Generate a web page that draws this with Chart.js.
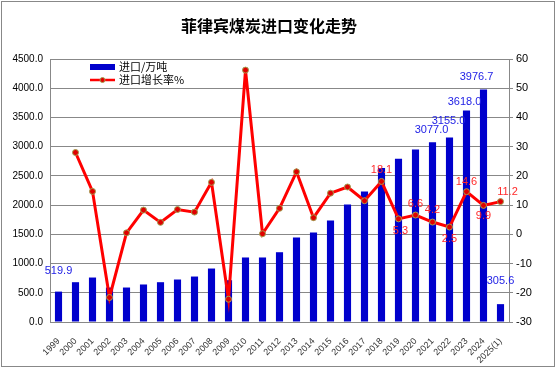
<!DOCTYPE html>
<html>
<head>
<meta charset="utf-8">
<script src="https://cdn.jsdelivr.net/npm/chart.js@4/dist/chart.umd.min.js"></script>
<style>
  html, body { margin: 0; padding: 0; background: #fff; }
  #wrap { width: 556px; height: 368px; }
</style>
</head>
<body>
<div id="wrap"><canvas id="coalChart" width="556" height="368"></canvas></div>
<script>
const years = ["1999", "2000", "2001", "2002", "2003", "2004", "2005", "2006", "2007", "2008",
  "2009", "2010", "2011", "2012", "2013", "2014", "2015", "2016", "2017", "2018",
  "2019", "2020", "2021", "2022", "2023", "2024", "2025(1)"];

// 进口量 (万吨)
const imports = [519.9, 681, 761, 590, 590, 642, 681, 727, 778, 915,
  715, 1104, 1104, 1194, 1446, 1531, 1737, 2010, 2233, 2637,
  2792, 2953, 3077.0, 3155.0, 3618.0, 3976.7, 305.6];

// 进口增长率 %
const growth = [null, 28.0, 14.7, -21.6, 0.5, 8.3, 4.1, 8.5, 7.6, 17.8,
  -22.2, 56.2, 0.2, 8.9, 21.4, 5.7, 14.1, 16.2, 11.5, 18.1,
  5.3, 6.6, 4.2, 2.5, 14.6, 9.9, 11.2];

// only some values carry a label in the original
const importLabels = ["519.9", null, null, null, null, null, null, null, null, null,
  null, null, null, null, null, null, null, null, null, null,
  null, null, "3077.0", "3155.0", "3618.0", "3976.7", "305.6"];
const growthLabels = [null, null, null, null, null, null, null, null, null, null,
  null, null, null, null, null, null, null, null, null, "18.1",
  "5.3", "6.6", "4.2", "2.5", "14.6", "9.9", "11.2"];

const leftTicks = { min: 0, max: 4500, step: 500 };
const rightTicks = { min: -30, max: 60, step: 10 };

const TITLE = "菲律宾煤炭进口变化走势";
const BAR_COLOR = "#0000cc";
const LINE_COLOR = "#ff0000";
const AXIS_COLOR = "#888888";
const FONT = "'Liberation Sans', 'Noto Sans CJK SC', sans-serif";
const CJK = "'Noto Sans CJK SC', sans-serif";

// label nudges, [dx, dy] from the mark
const barLabelOffset = { 0: [0, -21], 22: [-1, -12], 23: [-1, -17], 24: [-2, -9], 25: [-7, -13], 26: [0, -23] };
const lineLabelOffset = { 19: [0, -11], 20: [2, 12], 21: [0, -11], 22: [0, -12], 23: [0, 12], 24: [0, -10], 25: [0, 11], 26: [7, -10] };

const decorations = {
  id: "decorations",
  afterDatasetsDraw(chart) {
    const ctx = chart.ctx;
    ctx.save();
    ctx.font = "11px " + FONT;
    ctx.textAlign = "center";
    ctx.textBaseline = "middle";

    const barMeta = chart.getDatasetMeta(0);
    ctx.fillStyle = "#2222e6";
    importLabels.forEach((txt, i) => {
      if (!txt) return;
      const el = barMeta.data[i];
      const off = barLabelOffset[i] || [0, -10];
      ctx.fillText(txt, el.x + off[0], el.y + off[1]);
    });

    const lineMeta = chart.getDatasetMeta(1);
    ctx.fillStyle = "#ff2a2a";
    growthLabels.forEach((txt, i) => {
      if (!txt) return;
      const el = lineMeta.data[i];
      const off = lineLabelOffset[i] || [0, -10];
      ctx.fillText(txt, el.x + off[0], el.y + off[1]);
    });
    ctx.restore();
  },
  afterDraw(chart) {
    const ctx = chart.ctx;
    ctx.save();

    // outer frame
    ctx.strokeStyle = AXIS_COLOR;
    ctx.lineWidth = 1;
    ctx.strokeRect(1.5, 1.5, 553, 365);

    // title
    ctx.fillStyle = "#000";
    ctx.font = "bold 16px " + CJK;
    ctx.textAlign = "center";
    ctx.textBaseline = "middle";
    ctx.fillText(TITLE, 269, 26);

    // legend inside the plot
    ctx.fillStyle = BAR_COLOR;
    ctx.fillRect(90, 64, 25, 6);
    ctx.strokeStyle = LINE_COLOR;
    ctx.lineWidth = 2.5;
    ctx.beginPath();
    ctx.moveTo(90, 80);
    ctx.lineTo(115, 80);
    ctx.stroke();
    ctx.beginPath();
    ctx.arc(102.5, 80, 2.5, 0, Math.PI * 2);
    ctx.fillStyle = "#e00000";
    ctx.fill();
    ctx.lineWidth = 1;
    ctx.strokeStyle = "#a0a050";
    ctx.stroke();

    ctx.fillStyle = "#000";
    ctx.font = "11px " + CJK;
    ctx.textAlign = "left";
    ctx.fillText(chart.data.datasets[0].label, 119, 67);
    ctx.fillText(chart.data.datasets[1].label, 119, 80);
    ctx.restore();
  }
};

const ctx = document.getElementById("coalChart").getContext("2d");
new Chart(ctx, {
  type: "bar",
  data: {
    labels: years,
    datasets: [
      {
        label: "进口/万吨",
        data: imports,
        yAxisID: "y",
        backgroundColor: BAR_COLOR,
        barPercentage: 0.42,
        categoryPercentage: 1,
        order: 2,
      },
      {
        type: "line",
        label: "进口增长率%",
        data: growth,
        yAxisID: "y1",
        borderColor: LINE_COLOR,
        borderWidth: 3,
        pointRadius: 3,
        pointBackgroundColor: "#e00000",
        pointBorderColor: "#a0a050",
        pointBorderWidth: 1,
        tension: 0,
        order: 1,
      },
    ],
  },
  options: {
    responsive: false,
    animation: false,
    layout: { padding: { top: 59, left: 0, right: 0, bottom: 0 } },
    plugins: {
      legend: { display: false },
      title: { display: false },
      tooltip: { enabled: false },
    },
    scales: {
      x: {
        grid: { display: false },
        border: { display: true, color: AXIS_COLOR },
        ticks: {
          autoSkip: false,
          minRotation: 45,
          maxRotation: 45,
          padding: 6,
          color: "#333",
          font: { family: FONT, size: 9 },
        },
        afterFit(scale) { scale.height = 46; },
      },
      y: {
        position: "left",
        min: leftTicks.min,
        max: leftTicks.max,
        grid: { color: AXIS_COLOR, drawTicks: false },
        border: { display: true, color: AXIS_COLOR },
        ticks: {
          stepSize: leftTicks.step,
          padding: 7,
          color: "#000",
          font: { family: FONT, size: 10 },
          callback: (v) => v.toFixed(1),
        },
        afterFit(scale) { scale.width = 50; },
      },
      y1: {
        position: "right",
        min: rightTicks.min,
        max: rightTicks.max,
        grid: { drawOnChartArea: false, color: AXIS_COLOR, tickLength: 4 },
        border: { display: true, color: AXIS_COLOR },
        ticks: {
          stepSize: rightTicks.step,
          padding: 3,
          color: "#000",
          font: { family: FONT, size: 11 },
        },
        afterFit(scale) { scale.width = 47; },
      },
    },
  },
  plugins: [decorations],
});
</script>
</body>
</html>
